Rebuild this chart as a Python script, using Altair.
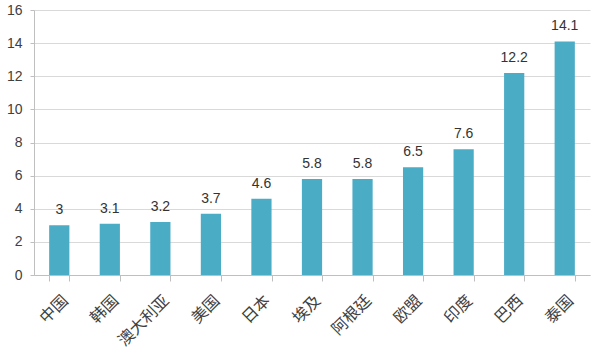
import altair as alt
import pandas as pd

countries = ["中国", "韩国", "澳大利亚", "美国", "日本", "埃及", "阿根廷", "欧盟", "印度", "巴西", "泰国"]
values = [3, 3.1, 3.2, 3.7, 4.6, 5.8, 5.8, 6.5, 7.6, 12.2, 14.1]
y_ticks = [0, 2, 4, 6, 8, 10, 12, 14, 16]

df = pd.DataFrame({"country": countries, "value": values})

base = alt.Chart(df).encode(
    x=alt.X("country:N", sort=countries, title=None,
            scale=alt.Scale(paddingInner=0.6, paddingOuter=0.3),
            axis=alt.Axis(labelAngle=-45, labelFontSize=16, labelColor="#404040",
                          labelFont="Noto Sans CJK SC", tickBand="extent",
                          domainColor="#bfbfbf", tickColor="#bfbfbf", tickSize=6,
                          labelPadding=11)),
    y=alt.Y("value:Q", title=None,
            scale=alt.Scale(domain=[0, 16], nice=False),
            axis=alt.Axis(values=y_ticks, labelFontSize=14, labelColor="#404040",
                          labelFont="Liberation Sans", gridColor="#d9d9d9",
                          domainColor="#bfbfbf", tickColor="#bfbfbf", tickSize=4,
                          labelPadding=8)),
)

bars = base.mark_bar(color="#4bacc6")
labels = base.mark_text(dy=-15, fontSize=14, color="#333333", font="Liberation Sans").encode(
    text=alt.Text("value:Q")
)

chart = (bars + labels).properties(
    width=556, height=265,
    autosize=alt.AutoSizeParams(type="none"),
    padding={"left": 34, "top": 10, "right": 10, "bottom": 78},
).configure_view(stroke=None)

chart.save("out.html", embed_options={"renderer": "svg", "actions": False})
